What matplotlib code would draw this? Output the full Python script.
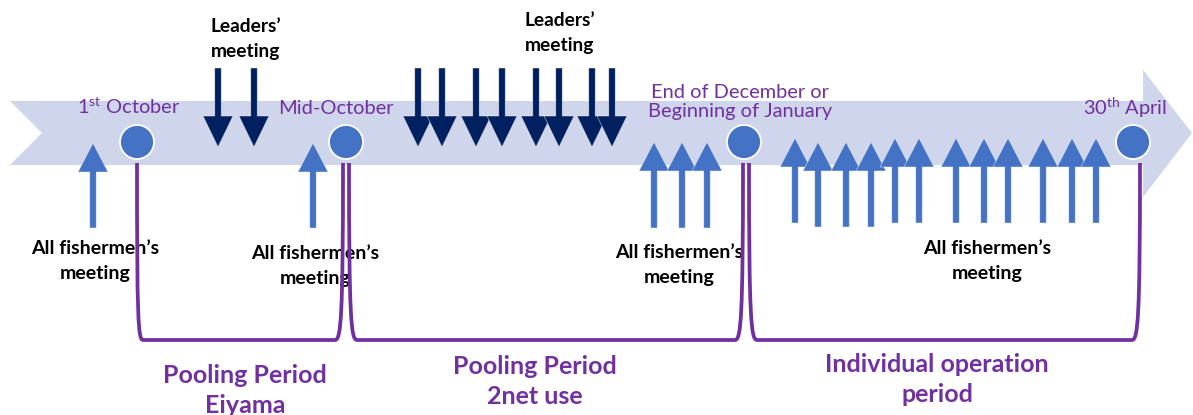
import matplotlib
matplotlib.use("Agg")
import matplotlib.pyplot as plt
from matplotlib.patches import Polygon, Circle, FancyArrow, PathPatch
from matplotlib.path import Path

plt.rcParams['font.family'] = ['Lato', 'DejaVu Sans']
plt.rcParams['mathtext.fontset'] = 'custom'
plt.rcParams['mathtext.rm'] = 'Lato'
plt.rcParams['mathtext.it'] = 'Lato:italic'
plt.rcParams['mathtext.bf'] = 'Lato:bold'

# ---------------- data ----------------
milestone_x = [137, 346, 744, 1133]
milestone_labels = [r"1$^{\rm st}$ October", "Mid-October",
                    "End of December or\nBeginning of January", r"30$^{\rm th}$ April"]
milestone_label_xy = [(129, 107), (336, 108), (740, 102), (1125, 108)]

leader_x = [218, 254, 418, 442, 476, 502, 536, 559, 592, 612]
leader_label_xy = [(246, 26), (560, 21)]

fisher_x = [93, 313, 654, 682, 707,
            795, 818, 846, 871, 895, 919, 956, 984, 1008, 1043, 1072, 1096]
fisher_tip = [143, 143, 142, 142, 142,
              138, 142, 142, 142, 138, 138, 138, 138, 138, 138, 138, 138]
fisher_base = [228, 228, 228, 228, 228,
               223, 227, 227, 227, 223, 223, 223, 223, 223, 223, 223, 223]
fisher_label_xy = [(95, 248), (315, 253), (679, 252), (987, 248)]

period_left = [137, 349, 749]
period_right = [343, 743, 1140]
period_labels = ["Pooling Period\nEiyama", "Pooling Period\n2net use",
                 "Individual operation\nperiod"]
period_label_xy = [(245, 375), (535, 366), (937, 364)]

# ---------------- colours ----------------
BAND = "#CFD5EA"
NAVY = "#002060"
BLUE = "#4472C4"
PURPLE = "#7030A0"

W, H = 1193, 415
fig = plt.figure(figsize=(W / 100, H / 100), dpi=100)
ax = fig.add_axes([0, 0, 1, 1])
ax.set_xlim(0, W)
ax.set_ylim(H, 0)
ax.axis("off")

# timeline band (chevron arrow)
band = Polygon([(10, 101), (1143, 101), (1143, 70), (1192, 133), (1143, 197),
                (1143, 165), (10, 165), (42, 133)], closed=True,
               facecolor=BAND, edgecolor="none", zorder=1)
ax.add_patch(band)

# leaders' meeting arrows (down)
for x in leader_x:
    ax.add_patch(FancyArrow(x, 68, 0, 147 - 68, width=6.5, head_width=30,
                            head_length=31, length_includes_head=True,
                            facecolor=NAVY, edgecolor=(1, 1, 1, 0.6),
                            linewidth=0.5, zorder=3))

# fishermen's meeting arrows (up)
for x, t, b in zip(fisher_x, fisher_tip, fisher_base):
    ax.add_patch(FancyArrow(x, b, 0, t - b, width=6.5, head_width=30,
                            head_length=29, length_includes_head=True,
                            facecolor=BLUE, edgecolor=(1, 1, 1, 0.6),
                            linewidth=0.5, zorder=3))

# period brackets
TOP, BOT = 163, 340
for xl, xr in zip(period_left, period_right):
    if xl > 200:
        verts = [(xl, TOP), (xl, BOT - 22), (xl + 2, BOT), (xl + 8, BOT),
                 (xr - 8, BOT), (xr - 2, BOT), (xr, BOT - 22), (xr, TOP)]
    else:
        verts = [(xl, TOP), (xl, BOT - 22), (xl + 1, BOT), (xl + 6, BOT),
                 (xr - 8, BOT), (xr - 2, BOT), (xr, BOT - 22), (xr, TOP)]
    codes = [Path.MOVETO, Path.CURVE4, Path.CURVE4, Path.CURVE4,
             Path.LINETO, Path.CURVE4, Path.CURVE4, Path.CURVE4]
    ax.add_patch(PathPatch(Path(verts, codes), facecolor="none",
                           edgecolor=PURPLE, linewidth=2.7, zorder=6,
                           capstyle="butt", joinstyle="round"))

# milestone circles
for x in milestone_x:
    ax.add_patch(Circle((x, 142), 17, facecolor=BLUE, edgecolor="white",
                        linewidth=1.3, zorder=7))

# milestone labels
for (x, y), lab in zip(milestone_label_xy, milestone_labels):
    ax.text(x, y, lab, color=PURPLE, fontsize=14.4, ha="center", va="center",
            linespacing=1.2, zorder=8)

# leaders' labels
for x, y in leader_label_xy:
    ax.text(x, y, "Leaders\u2019", fontsize=13.8, fontweight="bold",
            ha="center", va="center", color="black", zorder=5)
    ax.text(x, y + 25, "meeting", fontsize=13.8, fontweight="bold",
            ha="center", va="center", color="black", zorder=5)

# fishermen labels
for x, y in fisher_label_xy:
    ax.text(x, y, "All fishermen\u2019s", fontsize=14, fontweight="bold",
            ha="center", va="center", color="black", zorder=5)
    ax.text(x, y + 25, "meeting", fontsize=14, fontweight="bold",
            ha="center", va="center", color="black", zorder=5)

# period labels
for (x, y), lab in zip(period_label_xy, period_labels):
    l1, l2 = lab.split("\n")
    ax.text(x, y, l1, color=PURPLE, fontsize=18, fontweight="bold",
            ha="center", va="center", zorder=5)
    ax.text(x, y + 30, l2, color=PURPLE, fontsize=18, fontweight="bold",
            ha="center", va="center", zorder=5)

fig.savefig("out.png", dpi=100)
